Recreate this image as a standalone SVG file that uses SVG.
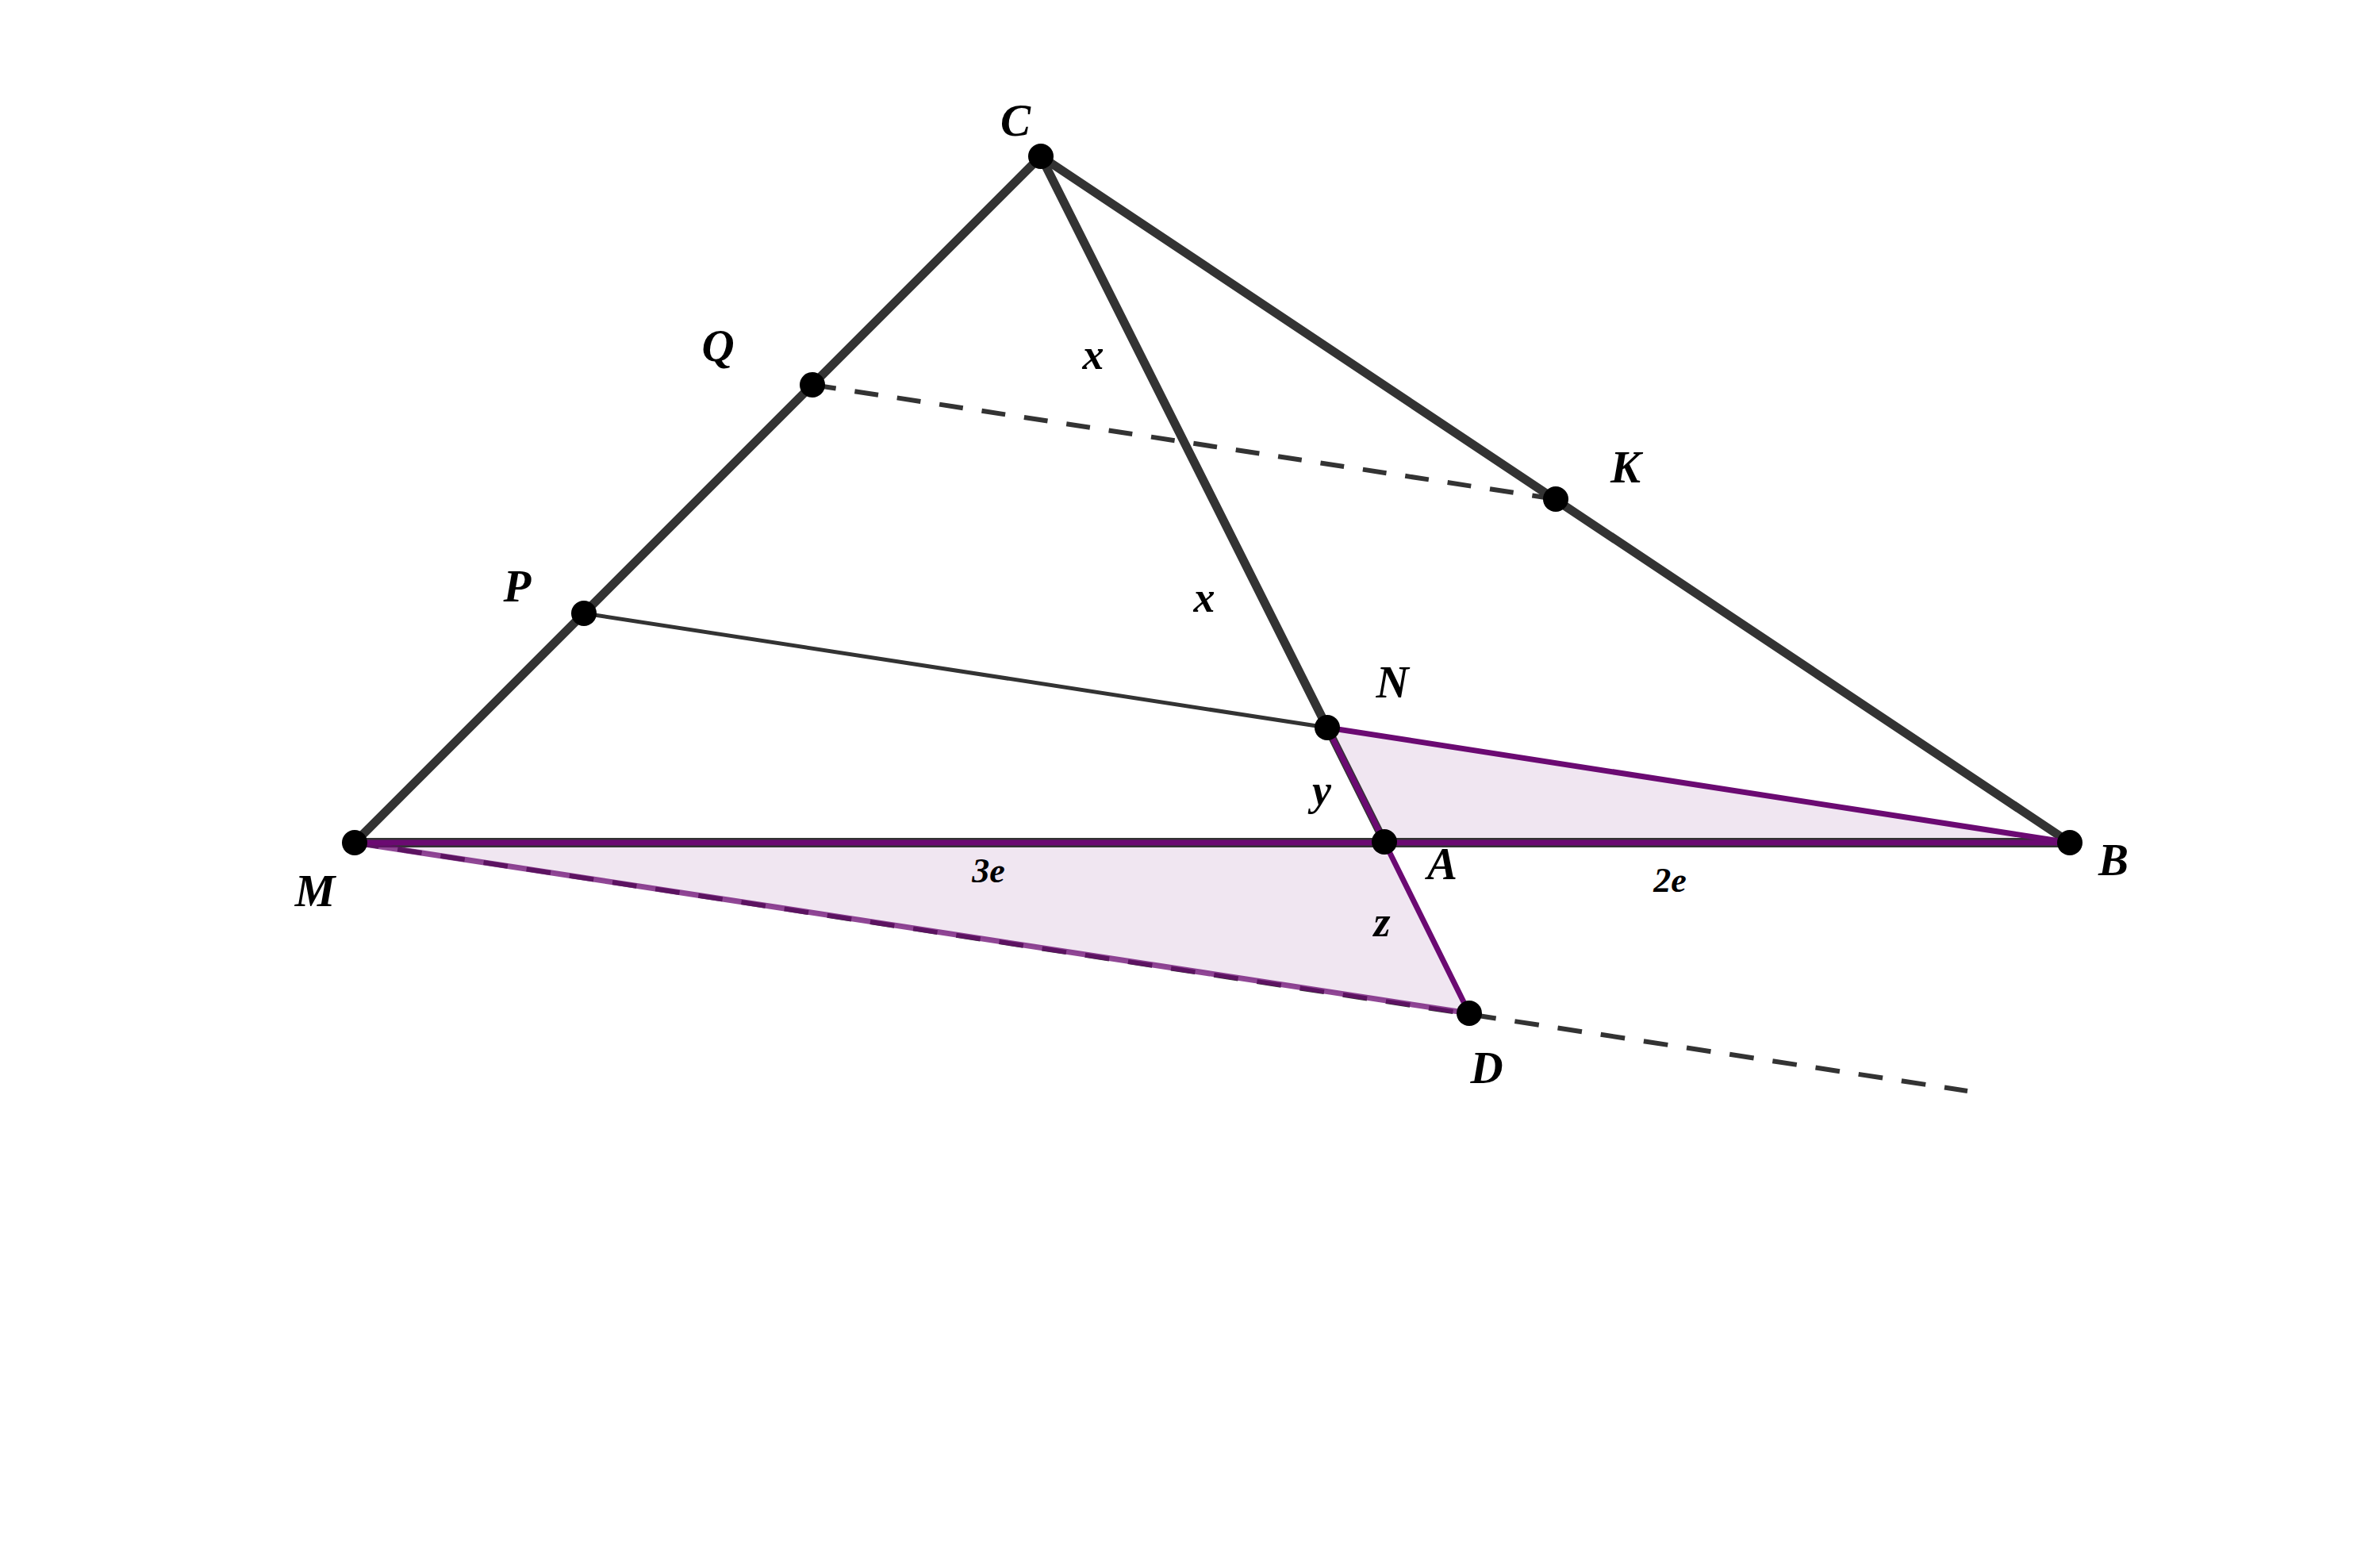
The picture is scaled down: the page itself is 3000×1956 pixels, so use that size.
<svg xmlns="http://www.w3.org/2000/svg" width="3000" height="1956" viewBox="0 0 3000 1956">
<style>
.dk{stroke:#333333;fill:none;stroke-linecap:round}
.thick{stroke-width:11}
.thin{stroke-width:5}
.dash{stroke-width:6;stroke-dasharray:30 24;stroke-linecap:butt}
.dash2{stroke-width:6;stroke-dasharray:30.8 24;stroke-linecap:butt}
.pu{stroke:#6B0A72;fill:none;stroke-width:7;stroke-linecap:round}
.fill{fill:#6B0A72;fill-opacity:0.1;stroke:none}
.pt{fill:#000000}
.lbl{font-family:"Liberation Serif","DejaVu Serif",serif;font-style:italic;font-weight:bold;fill:#000;text-anchor:middle}
.cap{font-size:57px}
.low{font-size:54px}
.seg{font-size:44px}
</style>
<rect width="3000" height="1956" fill="#ffffff"/>
<g id="regions">
<polygon class="fill" points="1673,917 1745,1061 2609,1062"/>
<polygon class="fill" points="447,1062 1745,1061 1852,1277"/>
</g>
<g id="connectors">
<line class="dk thick" x1="1312" y1="197" x2="447" y2="1062"/>
<line class="dk thick" x1="1312" y1="197" x2="2609" y2="1062"/>
<line class="dk thick" x1="1312" y1="197" x2="1673" y2="917"/>
<line class="dk" stroke-width="10" x1="1673" y1="917" x2="1745" y2="1061"/>
<line class="dk" stroke-width="12" x1="447" y1="1062" x2="2609" y2="1062"/>
<line class="dk thin" x1="736" y1="773" x2="1673" y2="917"/>
<line class="dk dash" x1="1024" y1="485" x2="1961" y2="629"/>
<line class="dk dash2" x1="447" y1="1062" x2="2480" y2="1375"/>
<line class="pu" stroke-width="8" x1="447" y1="1062" x2="2609" y2="1062"/>
<line class="pu" stroke-width="6" x1="1673" y1="917" x2="1745" y2="1061"/>
<line class="pu" x1="1673" y1="917" x2="2609" y2="1062"/>
<line class="pu" x1="1745" y1="1061" x2="1852" y2="1277"/>
<line class="pu" stroke-opacity="0.75" x1="447" y1="1062" x2="1852" y2="1277"/>
</g>
<g id="node-C"><circle class="pt" cx="1312" cy="197" r="16"/><text class="lbl cap" x="1280" y="171">C</text></g>
<g id="node-Q"><circle class="pt" cx="1024" cy="485" r="16"/><text class="lbl cap" x="905" y="455">Q</text></g>
<g id="node-P"><circle class="pt" cx="736" cy="773" r="16"/><text class="lbl cap" x="652" y="758">P</text></g>
<g id="node-M"><circle class="pt" cx="447" cy="1062" r="16"/><text class="lbl cap" x="397" y="1142">M</text></g>
<g id="node-N"><circle class="pt" cx="1673" cy="917" r="16"/><text class="lbl cap" x="1755" y="879">N</text></g>
<g id="node-A"><circle class="pt" cx="1745" cy="1061" r="16"/><text class="lbl cap" x="1818" y="1108">A</text></g>
<g id="node-B"><circle class="pt" cx="2609" cy="1062" r="16"/><text class="lbl cap" x="2664" y="1103">B</text></g>
<g id="node-K"><circle class="pt" cx="1961" cy="629" r="16"/><text class="lbl cap" x="2049" y="608">K</text></g>
<g id="node-D"><circle class="pt" cx="1852" cy="1277" r="16"/><text class="lbl cap" x="1874" y="1365">D</text></g>
<g id="labels">
<text class="lbl low" x="1378" y="465">x</text>
<text class="lbl low" x="1518" y="771">x</text>
<text class="lbl low" x="1666" y="1014">y</text>
<text class="lbl low" x="1742" y="1180">z</text>
<text class="lbl seg" x="1246" y="1112">3e</text>
<text class="lbl seg" x="2105" y="1124">2e</text>
</g>
</svg>
